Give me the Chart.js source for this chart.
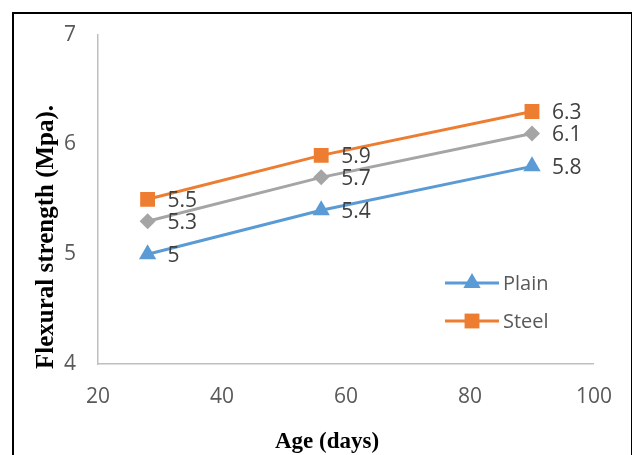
<!DOCTYPE html>
<html>
<head>
<meta charset="utf-8">
<script src="https://cdn.jsdelivr.net/npm/chart.js@4/dist/chart.umd.min.js"></script>
<style>
  html, body { margin: 0; padding: 0; background: #fff; }
  #wrap { position: relative; width: 632px; height: 455px; }
  #frame { position: absolute; left: 12px; top: 12px; width: 617px; height: 460px; border: 2px solid #000; }
  canvas { position: absolute; left: 0; top: 0; }
</style>
</head>
<body>
<div id="wrap">
  <div id="frame"></div>
  <canvas id="myChart" width="632" height="455"></canvas>
</div>
<script>
const ages = [28, 56, 90];
const plain = [5, 5.4, 5.8];
const mixed = [5.3, 5.7, 6.1];
const steel = [5.5, 5.9, 6.3];
const xTicks = [20, 40, 60, 80, 100];
const yTicks = [4, 5, 6, 7];

const toPoints = (vals) => vals.map((v, i) => ({ x: ages[i], y: v }));

const pointLabels = {
    id: 'pointLabels',
    afterDatasetsDraw(chart) {
        const ctx = chart.ctx;
        ctx.save();
        ctx.font = '21px "Open Sans"';
        ctx.fillStyle = '#404040';
        ctx.textAlign = 'left';
        ctx.textBaseline = 'middle';
        chart.data.datasets.forEach((ds, i) => {
            chart.getDatasetMeta(i).data.forEach((el, j) => {
                ctx.fillText(String(ds.data[j].y), el.x + 20, el.y + 2);
            });
        });
        ctx.restore();
    }
};

const extras = {
    id: 'extras',
    afterDraw(chart) {
        const ctx = chart.ctx;
        ctx.save();
        // legend (only Plain and Steel)
        const rows = [[0, 283], [2, 321]];
        rows.forEach(([i, y]) => {
            const ds = chart.data.datasets[i];
            ctx.strokeStyle = ds.borderColor;
            ctx.lineWidth = 3;
            ctx.beginPath();
            ctx.moveTo(445, y);
            ctx.lineTo(499, y);
            ctx.stroke();
            ctx.fillStyle = ds.backgroundColor;
            Chart.helpers.drawPoint(ctx, { pointStyle: ds.pointStyle, radius: ds.pointRadius, borderWidth: 0 }, 472, y);
            ctx.font = '20px "Open Sans"';
            ctx.fillStyle = '#595959';
            ctx.textAlign = 'left';
            ctx.textBaseline = 'middle';
            ctx.fillText(ds.label, 503, y + 1);
        });
        // axis titles
        ctx.fillStyle = '#000';
        ctx.font = 'bold 23px "Liberation Serif"';
        ctx.textAlign = 'center';
        ctx.textBaseline = 'alphabetic';
        ctx.fillText('Age (days)', 327, 448);
        ctx.translate(53, 237);
        ctx.rotate(-Math.PI / 2);
        ctx.font = 'bold 25px "Liberation Serif"';
        ctx.fillText('Flexural strength (Mpa).', 0, 0);
        ctx.restore();
    }
};

const ctx = document.querySelector('#myChart').getContext('2d');
new Chart(ctx, {
    type: 'scatter',
    data: {
        datasets: [{
            label: 'Plain',
            data: toPoints(plain),
            borderColor: '#5B9BD5',
            backgroundColor: '#5B9BD5',
            pointStyle: 'triangle',
            pointRadius: 10
        }, {
            label: 'Series 3',
            data: toPoints(mixed),
            borderColor: '#A5A5A5',
            backgroundColor: '#A5A5A5',
            pointStyle: 'rectRot',
            pointRadius: 8
        }, {
            label: 'Steel',
            data: toPoints(steel),
            borderColor: '#ED7D31',
            backgroundColor: '#ED7D31',
            pointStyle: 'rect',
            pointRadius: 10.5
        }].map(d => Object.assign(d, { showLine: true, borderWidth: 3, pointBorderWidth: 0, pointHoverRadius: d.pointRadius }))
    },
    options: {
        responsive: false,
        animation: false,
        layout: { padding: { top: 33, right: 34, left: 0, bottom: 0 } },
        plugins: { legend: { display: false }, tooltip: { enabled: false } },
        scales: {
            x: {
                type: 'linear',
                min: 20,
                max: 100,
                afterBuildTicks: (s) => { s.ticks = xTicks.map(v => ({ value: v })); },
                afterFit: (s) => { s.height = 91; },
                grid: { display: false, drawTicks: false },
                border: { display: true, color: '#BFBFBF', width: 1.5 },
                ticks: { padding: 20, color: '#595959', font: { family: '"Open Sans"', size: 21 } }
            },
            y: {
                min: 4,
                max: 7,
                afterBuildTicks: (s) => { s.ticks = yTicks.map(v => ({ value: v })); },
                afterFit: (s) => { s.width = 98; },
                grid: { display: false, drawTicks: false },
                border: { display: true, color: '#BFBFBF', width: 1.5 },
                ticks: { padding: 22, color: '#595959', font: { family: '"Open Sans"', size: 21 } }
            }
        }
    },
    plugins: [pointLabels, extras]
});
</script>
</body>
</html>
